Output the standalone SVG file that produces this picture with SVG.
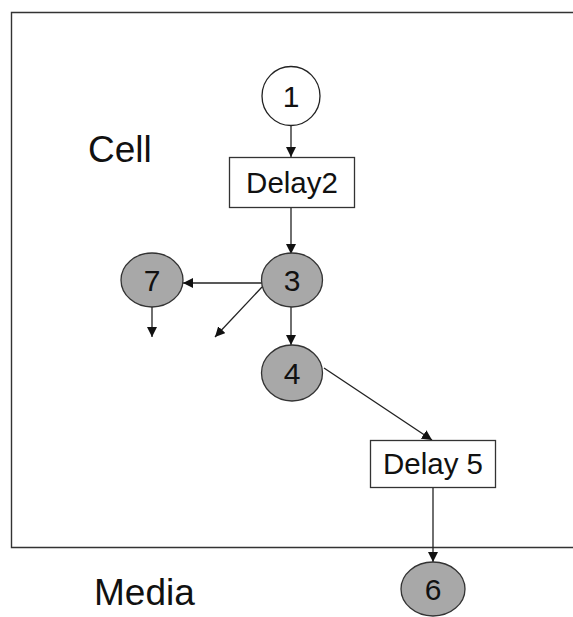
<svg xmlns="http://www.w3.org/2000/svg" width="573" height="617" viewBox="0 0 573 617">
<style>
.lbl{font-family:"Liberation Sans",Arial,sans-serif;fill:#111;}
.big{font-size:37px;}
.num{font-size:30px;text-anchor:middle;}
.box{font-size:29.5px;text-anchor:middle;}
.edge{stroke:#222;stroke-width:1.3;fill:none;marker-end:url(#ah);}
.open{fill:#fff;stroke:#222;stroke-width:1.3;}
.gray{fill:#a8a8a8;stroke:#333;stroke-width:1.3;}
.rect{fill:#fff;stroke:#333;stroke-width:1.3;}
.frame{stroke:#333;stroke-width:1.4;fill:none;}
</style>
<defs>
<marker id="ah" viewBox="0 0 10 10" refX="10" refY="5" markerWidth="10" markerHeight="10" markerUnits="userSpaceOnUse" orient="auto">
<path d="M0,0 L10,5 L0,10 z" fill="#111"/>
</marker>
</defs>
<rect width="573" height="617" fill="#fff"/>
<g id="frame">
<path class="frame" d="M573,12.5 L11.5,12.5 L11.5,547.5 L573,547.5"/>
</g>
<text class="lbl big" x="88" y="162">Cell</text>
<text class="lbl big" x="94" y="605">Media</text>
<g id="connectors">
<line class="edge" x1="291" y1="125" x2="291" y2="157"/>
<line class="edge" x1="291" y1="208" x2="291" y2="254"/>
<line class="edge" x1="262" y1="283" x2="183" y2="283"/>
<line class="edge" x1="152" y1="307" x2="152" y2="337"/>
<line class="edge" x1="262" y1="287" x2="215" y2="337"/>
<line class="edge" x1="291" y1="307" x2="291" y2="345"/>
<line class="edge" x1="324" y1="368" x2="432" y2="440"/>
<line class="edge" x1="433" y1="487" x2="433" y2="562"/>
</g>
<g id="n1">
<ellipse class="open" cx="291" cy="96" rx="29" ry="29.5"/>
<text class="lbl num" x="291" y="107">1</text>
</g>
<g id="n2">
<rect class="rect" x="229.5" y="157.5" width="125" height="50"/>
<text class="lbl box" x="292" y="193">Delay2</text>
</g>
<g id="n3">
<ellipse class="gray" cx="292" cy="280" rx="30.5" ry="27"/>
<text class="lbl num" x="292" y="291">3</text>
</g>
<g id="n7">
<ellipse class="gray" cx="152" cy="280" rx="31" ry="27"/>
<text class="lbl num" x="152" y="291">7</text>
</g>
<g id="n4">
<ellipse class="gray" cx="292" cy="373" rx="30.5" ry="28"/>
<text class="lbl num" x="292" y="384">4</text>
</g>
<g id="n5">
<rect class="rect" x="370.5" y="440.5" width="125" height="47"/>
<text class="lbl box" x="433" y="474">Delay 5</text>
</g>
<g id="n6">
<ellipse class="gray" cx="433" cy="589" rx="32" ry="27"/>
<text class="lbl num" x="433" y="600">6</text>
</g>
</svg>
